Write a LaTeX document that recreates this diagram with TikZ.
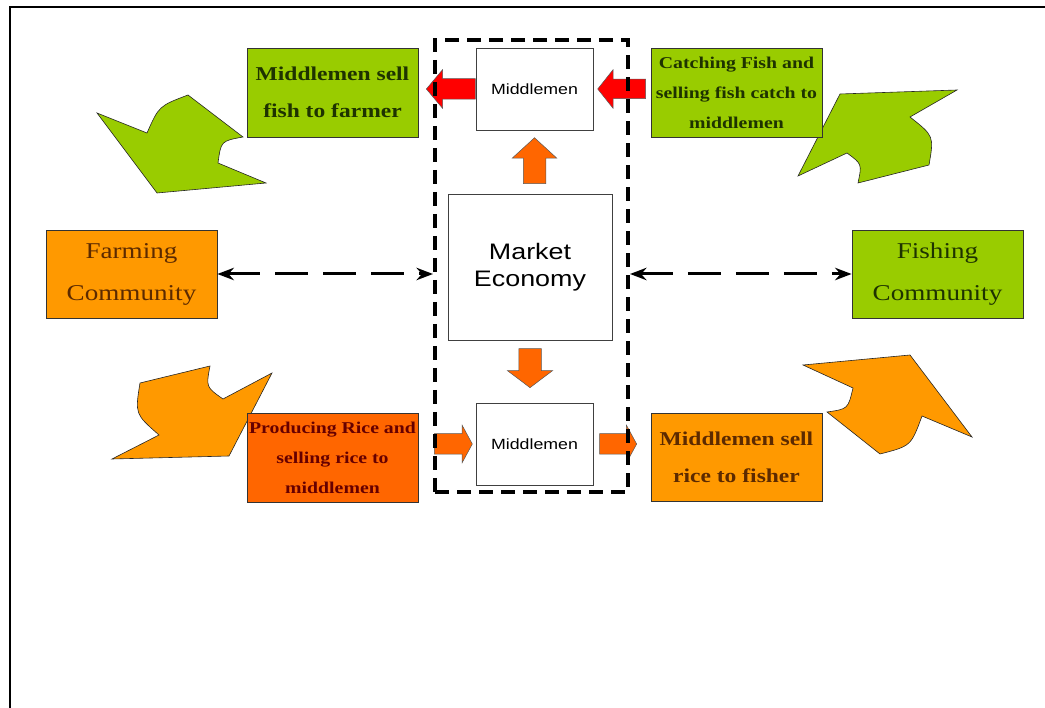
\documentclass[tikz,border=0pt]{standalone}
\usepackage{fontspec}
\setmainfont[FakeStretch=1.2]{Liberation Serif}
\setsansfont[FakeStretch=1.2]{Liberation Sans}
\usepackage{tikz}
\usetikzlibrary{arrows.meta, positioning, calc, shapes.arrows}
\usepackage{xcolor}
\definecolor{leafgreen}{HTML}{99CC00}
\definecolor{riceorange}{HTML}{FF9900}
\definecolor{deeporange}{HTML}{FF6600}
\definecolor{arrowred}{HTML}{FF0000}
\definecolor{greentext}{HTML}{1E3300}
\definecolor{browntext}{HTML}{5C2A00}
\definecolor{maroontext}{HTML}{660000}

\begin{document}
\begin{tikzpicture}[
    x=1pt, y=-1pt,
    >=Stealth,
    box/.style={draw=black!80, line width=0.8pt, minimum width=171pt, minimum height=89pt, inner sep=0, align=center},
    boldbig/.style={font=\fontsize{19.6}{37}\selectfont\bfseries},
    boldsmall/.style={font=\fontsize{16.5}{30}\selectfont\bfseries},
    commun/.style={font=\fontsize{22.6}{42}\selectfont},
    whitebox/.style={draw=black!75, line width=0.8pt, fill=white, inner sep=0, align=center},
    blockarrow/.style={single arrow, draw=black!65, line width=0.5pt, single arrow head indent=0pt},
    bentarrow/.style={draw=black!85, line width=0.6pt},
    dasharrow/.style={<->, line width=3pt, dash pattern=on 33pt off 15pt}
]
\useasboundingbox (0,0) rectangle (1045,708);
\draw[line width=1.5pt] (10,708) -- (10,7) -- (1045,7);

% bent arrows (drawn first, the boxes lie over them)
\draw[bentarrow, fill=leafgreen] (97,113) -- (147,133) .. controls (159,106) .. (188,95)
    -- (243,137) .. controls (221,141) .. (218,163) -- (266,183) -- (157,193) -- cycle;
\draw[bentarrow, fill=leafgreen] (798,176) -- (840,94) -- (957,90) -- (910,117)
    .. controls (934,136) .. (929,165) -- (858,183) .. controls (862,164) .. (847,153) -- cycle;
\draw[bentarrow, fill=riceorange] (112,459) -- (159,435) .. controls (135,414) .. (140,383)
    -- (210,366) .. controls (206,387) .. (223,399) -- (272,373) -- (229,456) -- cycle;
\draw[bentarrow, fill=riceorange] (803,365) -- (910,355) -- (972,437) -- (922,416)
    .. controls (911,446) .. (880,454) -- (827,412) .. controls (848,409) .. (853,388) -- cycle;

% side boxes
\node[box, fill=leafgreen, boldbig, text=greentext] (fishsell) at (332.5,92.5) {Middlemen sell\\fish to farmer};
\node[box, fill=leafgreen, boldsmall, text=greentext] (catchfish) at (736.5,92.5) {Catching Fish and\\selling fish catch to\\middlemen};
\node[box, fill=riceorange, commun, text=browntext, minimum height=88pt] (farm) at (131.5,274) {Farming\\Community};
\node[box, fill=leafgreen, commun, text=greentext, minimum height=88pt] (fishing) at (937.5,274) {Fishing\\Community};
\node[box, fill=deeporange, boldsmall, text=maroontext] (riceprod) at (332.5,457.5) {Producing Rice and\\selling rice to\\middlemen};
\node[box, fill=riceorange, boldbig, text=browntext, minimum height=88pt] (ricesell) at (736.5,457) {Middlemen sell\\rice to fisher};

% market part
\node[whitebox, minimum width=117pt, minimum height=82pt, font=\sffamily\fontsize{14.8}{18}\selectfont] (midtop) at (534.5,89) {Middlemen};
\node[whitebox, minimum width=164pt, minimum height=146pt, font=\sffamily\fontsize{22.4}{27}\selectfont] (mkt) at (530,267) {Market\\Economy};
\node[whitebox, minimum width=117pt, minimum height=82pt, font=\sffamily\fontsize{14.8}{18}\selectfont] (midbot) at (534.5,444) {Middlemen};

% block arrows
\node[blockarrow, fill=arrowred, shape border rotate=180, minimum height=49pt, inner sep=10pt,
    single arrow head extend=9pt, single arrow tip angle=100, anchor=tail] at (midtop.west) {};
\node[blockarrow, fill=arrowred, shape border rotate=180, minimum height=48pt, inner sep=9.5pt,
    single arrow head extend=9.5pt, single arrow tip angle=103, anchor=tip] at ([xshift=4pt]midtop.east) {};
\node[blockarrow, fill=deeporange, shape border rotate=90, minimum height=46pt, inner sep=11pt,
    single arrow head extend=11pt, single arrow tip angle=95, anchor=tip] at ([yshift=-7pt]midtop.south) {};
\node[blockarrow, fill=deeporange, shape border rotate=270, minimum height=39pt, inner sep=11pt,
    single arrow head extend=11.5pt, single arrow tip angle=106, anchor=tail] at ([yshift=-8pt]mkt.south) {};
\node[blockarrow, fill=deeporange, minimum height=38pt, inner sep=10pt,
    single arrow head extend=8.5pt, single arrow tip angle=123, anchor=tip] at ([xshift=-3pt]midbot.west) {};
\node[blockarrow, fill=deeporange, minimum height=37pt, inner sep=10pt,
    single arrow head extend=8.5pt, single arrow tip angle=123, anchor=tail] at ([xshift=6pt]midbot.east) {};

% dashed frame round the market
\node[draw, line width=4pt, dash pattern=on 14pt off 8pt, minimum width=193pt, minimum height=452pt] (hub) at (531.5,266) {};

% links to the communities
\draw[dasharrow] (farm.east) -- (farm.east -| hub.west);
\draw[dasharrow] (hub.east |- fishing.west) -- (fishing.west);
\end{tikzpicture}
\end{document}
